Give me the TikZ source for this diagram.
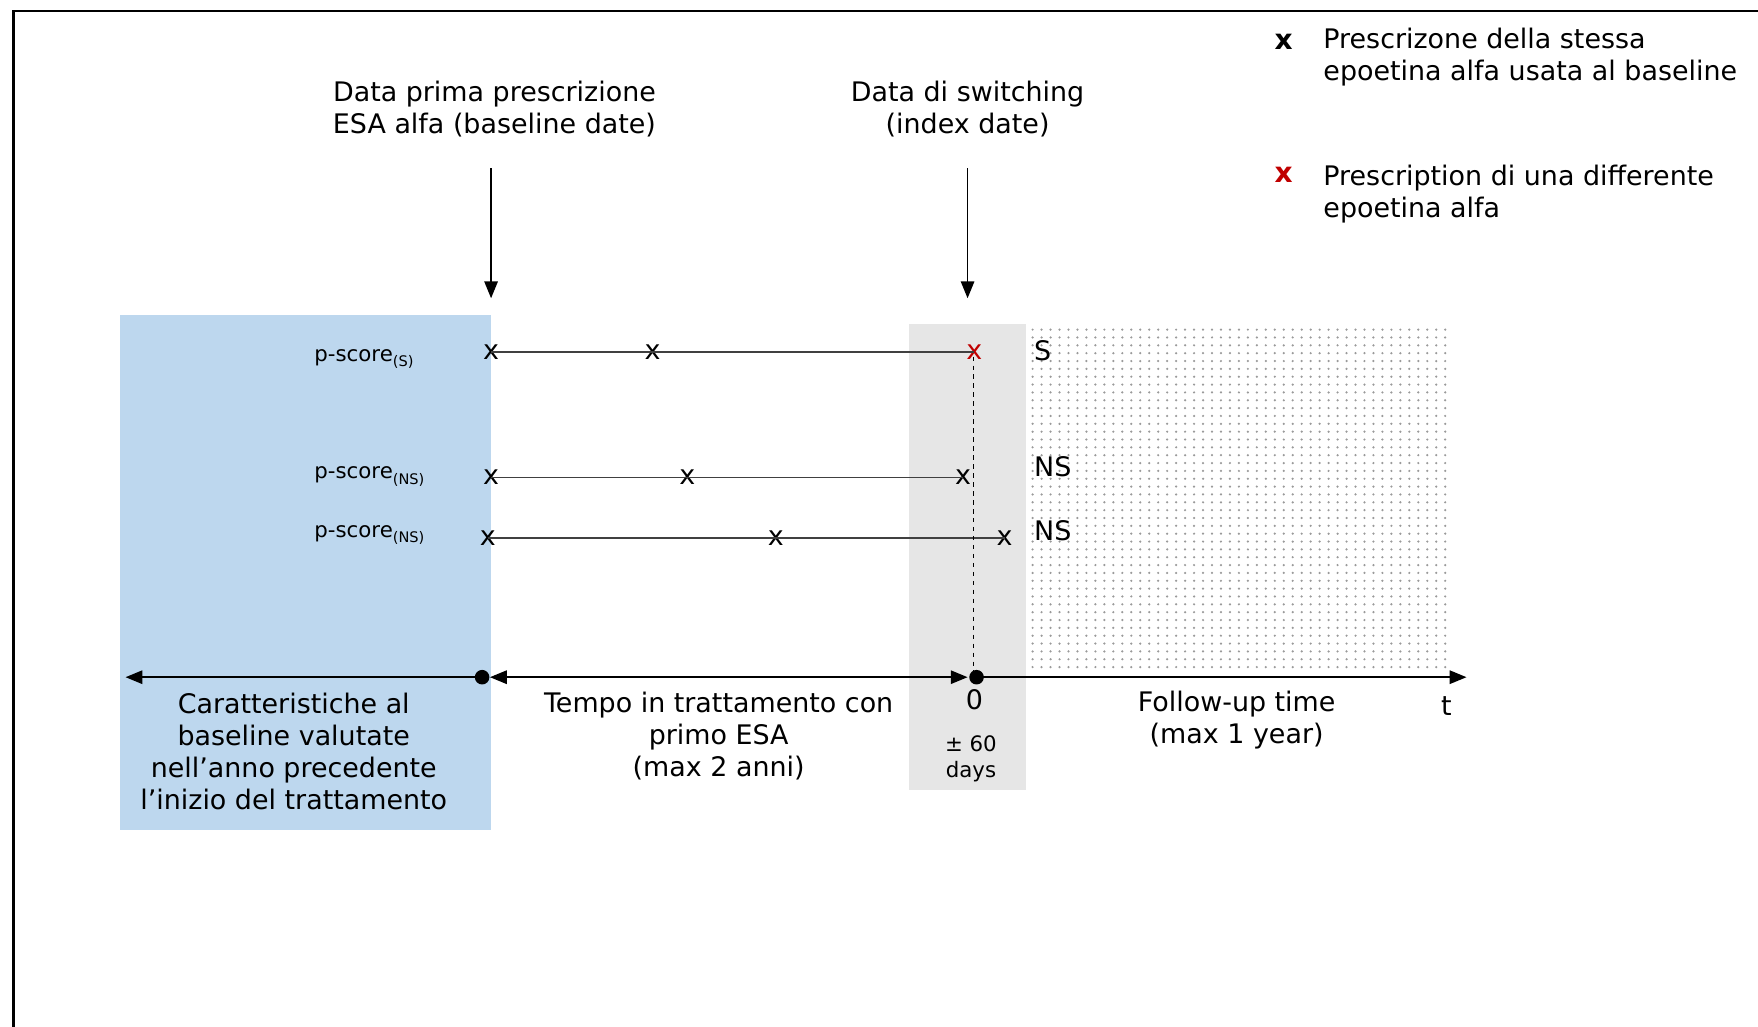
\documentclass[tikz,border=0pt]{standalone}
\usepackage{fontspec}
\setmainfont{DejaVu Sans}
\usetikzlibrary{arrows.meta}
\definecolor{bblue}{HTML}{BDD7EE}
\definecolor{ggray}{HTML}{E6E6E6}
\definecolor{rred}{HTML}{C00000}
\definecolor{dotc}{HTML}{9A9A9A}
\definecolor{linec}{HTML}{404040}
\begin{document}
\begin{tikzpicture}[x=0.5pt,y=-0.5pt,
  lbl/.style={font=\fontsize{12}{14.3}\selectfont, align=center, inner sep=0pt},
  smalllbl/.style={font=\fontsize{9.5}{11.5}\selectfont, align=center, inner sep=0pt},
  legtxt/.style={font=\fontsize{12}{14}\selectfont, align=left, inner sep=0pt, anchor=west},
  xmark/.style={font=\fontsize{12}{12}\selectfont, inner sep=0pt},
  psc/.style={font=\fontsize{9.5}{11}\selectfont, inner sep=0pt, anchor=base west},
  rowline/.style={draw=linec, line width=0.65pt},
  axis/.style={draw=black, line width=0.7pt},
  tip/.style={-{Triangle[length=7.5pt,width=6pt]}},
  bigdot/.style={circle, fill=black, inner sep=0pt, minimum size=6.5pt}
]
\useasboundingbox (0,0) rectangle (1568,916);
% frame
\draw[line width=1.1pt] (12,916) -- (12,10) -- (1568,10);

% shaded regions
\fill[bblue] (107,281) rectangle (438,740);
\fill[ggray] (811,289) rectangle (915,705);
\foreach \xx in {921,929,...,1289}
  \foreach \yy in {294,301,...,600}
    \fill[dotc] (\xx,\yy) circle[radius=0.55pt];

% legend
\node[font=\bfseries\fontsize{12.5}{12}\selectfont, inner sep=0pt] (lx1) at (1145,37) {x};
\node[legtxt] (lt1) at (1180,51) {Prescrizone della stessa\\epoetina alfa usata al baseline};
\node[font=\bfseries\fontsize{12.5}{12}\selectfont, text=rred, inner sep=0pt] (lx2) at (1145,156) {x};
\node[legtxt] (lt2) at (1180,173) {Prescription di una differente\\epoetina alfa};

% top labels and arrows
\node[lbl] (bl) at (441,97) {Data prima prescrizione\\ESA alfa (baseline date)};
\node[lbl] (il) at (863,97) {Data di switching\\(index date)};
\coordinate (a1s) at (438,150);
\coordinate (a1e) at (438,266);
\coordinate (a2s) at (863,150);
\coordinate (a2e) at (863,266);
\draw[axis, line width=0.6pt, tip] (a1s) -- (a1e);
\draw[axis, line width=0.6pt, tip] (a2s) -- (a2e);

% p-score labels
\node[psc] (p1) at (280,322) {p-score\raisebox{-2.5pt}{\fontsize{6.5}{7}\selectfont (S)}};
\node[psc] (p2) at (280,427) {p-score\raisebox{-2.5pt}{\fontsize{6.5}{7}\selectfont (NS)}};
\node[psc] (p3) at (280,479) {p-score\raisebox{-2.5pt}{\fontsize{6.5}{7}\selectfont (NS)}};

% rows
\node[xmark] (s1) at (438,314) {x};
\node[xmark] (s2) at (582,314) {x};
\node[xmark, text=rred] (s3) at (869,314) {x};
\draw[rowline] (s1.center) -- (s3.center);

\node[xmark] (n1) at (438,426) {x};
\node[xmark] (n2) at (613,426) {x};
\node[xmark] (n3) at (859,426) {x};
\draw[rowline] (n1.center) -- (n3.center);

\node[xmark] (q1) at (435,480) {x};
\node[xmark] (q2) at (692,480) {x};
\node[xmark] (q3) at (896,480) {x};
\draw[rowline] (q1.center) -- (q3.center);

\node[lbl, anchor=west] (ls) at (922,313) {S};
\node[lbl, anchor=west] (ln1) at (922,416) {NS};
\node[lbl, anchor=west] (ln2) at (922,473) {NS};

% timeline
\coordinate (tl) at (112,604);
\coordinate (m1) at (437,604);
\coordinate (m2) at (863,604);
\coordinate (tr) at (1308,604);
\node[bigdot] (d1) at (430,604) {};
\node[bigdot] (d2) at (871,604) {};
\draw[dash pattern=on 2pt off 2pt, line width=0.5pt] (868,318) -- (868,600);
\draw[axis, tip] (d1.center) -- (tl);
\draw[axis, {Triangle[length=7.5pt,width=6pt]}-{Triangle[length=7.5pt,width=6pt]}] (m1) -- (m2);
\draw[axis, tip] (d2.center) -- (tr);

% bottom labels
\node[lbl] (c1) at (262,670.5) {Caratteristiche al\\baseline valutate\\nell’anno precedente\\l’inizio del trattamento};
\node[lbl] (c2) at (641,656.5) {Tempo in trattamento con\\primo ESA\\(max 2 anni)};
\node[lbl] (zero) at (869,624) {0};
\node[smalllbl] (days) at (866,676.5) {± 60\\days};
\node[lbl] (fu) at (1103,642) {Follow-up time\\(max 1 year)};
\node[lbl] (tt) at (1290,630) {t};
\end{tikzpicture}
\end{document}
